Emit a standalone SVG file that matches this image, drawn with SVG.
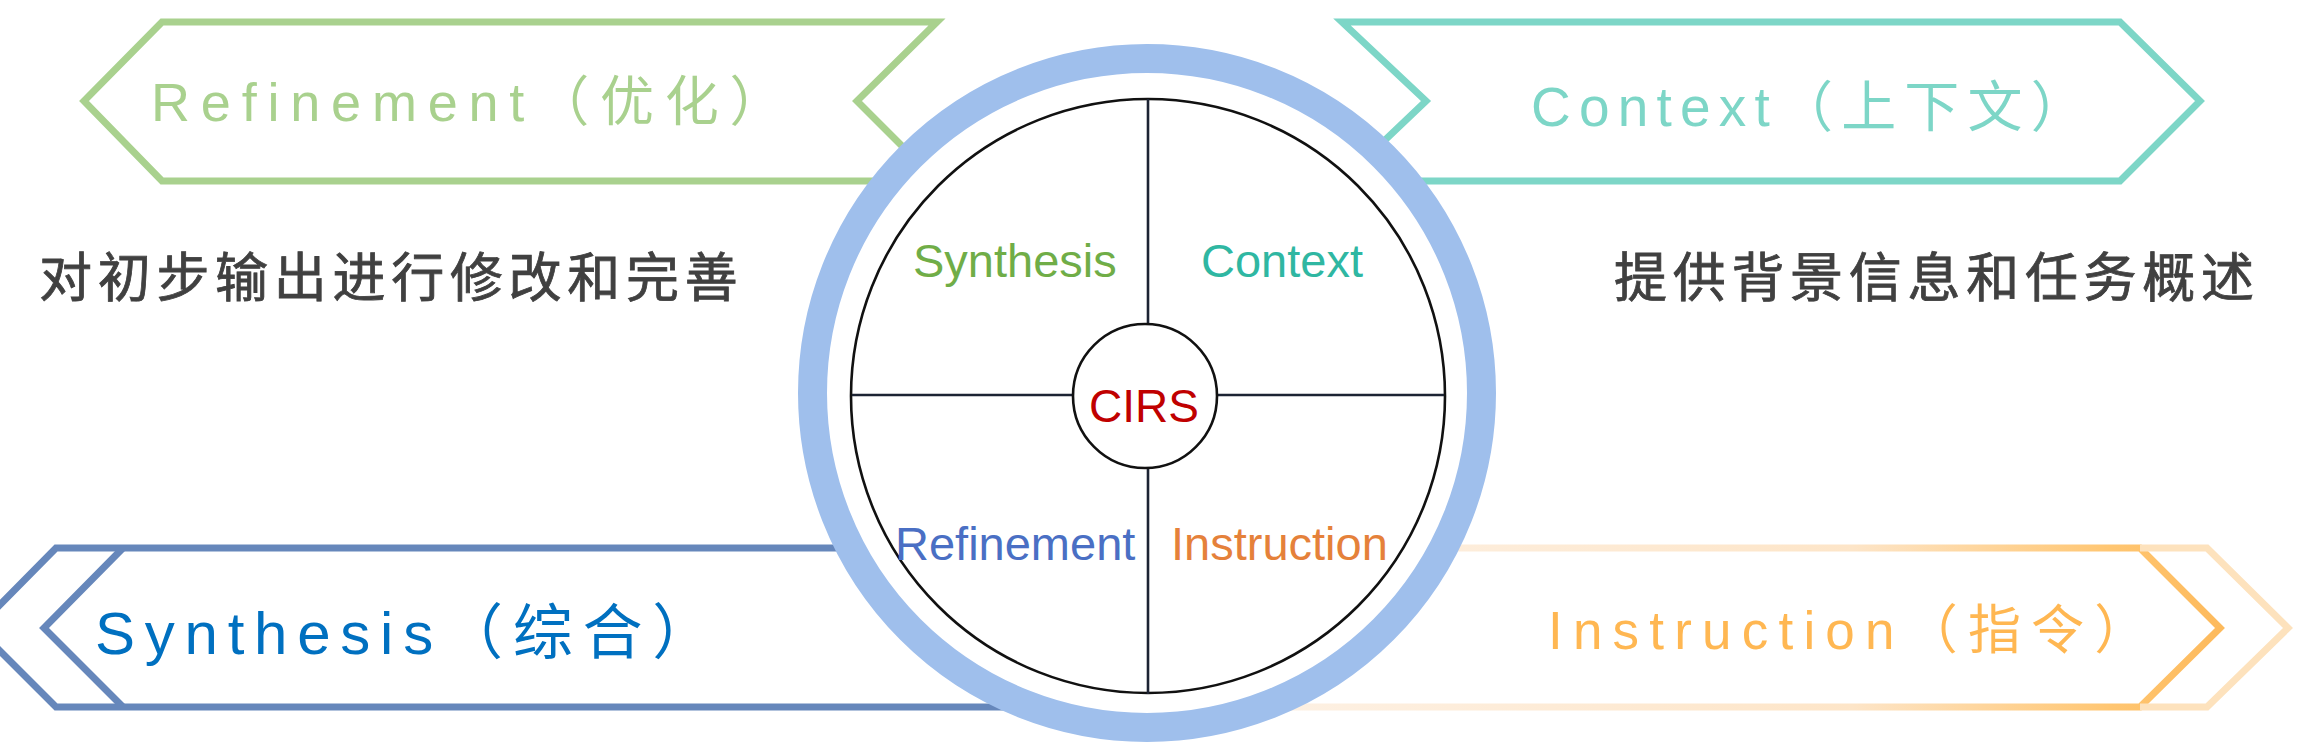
<svg xmlns="http://www.w3.org/2000/svg" width="2304" height="747" viewBox="0 0 2304 747">
<defs>
<style>
.arrow{fill:none;stroke-width:7;stroke-linejoin:miter;stroke-linecap:butt}
.big{font-family:"Liberation Sans","Noto Sans CJK SC",sans-serif}
.desc{font-family:"Noto Sans CJK SC","Liberation Sans",sans-serif;font-size:53px;font-weight:400;fill:#404040;stroke:#404040;stroke-width:0.8px;letter-spacing:5.7px}
.quad{font-family:"Liberation Sans",Arial,sans-serif;font-size:47px}
.line{stroke:#1c2333;stroke-width:2.6;fill:none}
</style>
<linearGradient id="instrGrad" gradientUnits="userSpaceOnUse" x1="1300" y1="0" x2="2220" y2="0">
<stop offset="0" stop-color="#fdf0e2"/>
<stop offset="0.6" stop-color="#fde5c8"/>
<stop offset="0.88" stop-color="#ffc672"/>
<stop offset="1" stop-color="#fdba5c"/>
</linearGradient>
</defs>
<rect width="2304" height="747" fill="#ffffff"/>

<g id="refinement-arrow">
<polygon class="arrow" stroke="#a9d18e" points="162,22 937,22 857,101 937,181 162,181 84,101"/>
<text class="big" x="151" y="121" font-size="54" fill="#a9d18e" letter-spacing="10.8">Refinement（优化）</text>
</g>

<g id="context-arrow">
<polygon class="arrow" stroke="#7dd6c7" points="1342,22 2120,22 2200,101 2120,181 1342,181 1426,101"/>
<text class="big" x="1531" y="126" font-size="55" fill="#7dd6c7" letter-spacing="8.2">Context（上下文）</text>
</g>

<g id="synthesis-arrow">
<polyline class="arrow" stroke="#6687bb" points="1200,548 56,548 -23,628 56,707 1200,707"/>
<polyline class="arrow" stroke="#6687bb" points="123,548 44,628 123,707"/>
<text class="big" x="95" y="654" font-size="60" fill="#0070c0" letter-spacing="9.75">Synthesis（综合）</text>
</g>

<g id="instruction-arrow">
<polyline class="arrow" stroke="url(#instrGrad)" points="1150,548 2140,548 2220,628 2140,707 1150,707"/>
<polyline class="arrow" stroke="#fde2bd" points="2140,548 2207,548 2288,628 2207,707 2140,707"/>
<text class="big" x="1548" y="649" font-size="53" fill="#ffb752" letter-spacing="10.2">Instruction（指令）</text>
</g>

<g id="refinement-desc">
<text class="desc" x="39" y="297">对初步输出进行修改和完善</text>
</g>
<g id="context-desc">
<text class="desc" x="1614" y="297">提供背景信息和任务概述</text>
</g>

<g id="cirs-wheel">
<circle cx="1147" cy="393" r="334.5" fill="#ffffff" stroke="#9fbfec" stroke-width="29"/>
<circle cx="1148" cy="396" r="297" fill="#ffffff" stroke="#111111" stroke-width="2.6"/>
</g>

<g id="connectors">
<line class="line" x1="1148" y1="99" x2="1148" y2="324"/>
<line class="line" x1="1148" y1="468" x2="1148" y2="694"/>
<line class="line" x1="852" y1="395" x2="1073" y2="395"/>
<line class="line" x1="1217" y1="395" x2="1444" y2="395"/>
</g>

<g id="cirs-center">
<circle cx="1145" cy="396" r="72" fill="#ffffff" stroke="#111111" stroke-width="2.6"/>
<text x="1089" y="422" font-family="Liberation Sans, Arial, sans-serif" font-size="46" fill="#c00000">CIRS</text>
</g>

<g id="quad-synthesis"><text class="quad" x="913" y="277" fill="#70ad47">Synthesis</text></g>
<g id="quad-context"><text class="quad" x="1201" y="277" fill="#2fb7a2">Context</text></g>
<g id="quad-refinement"><text class="quad" x="895" y="560" fill="#4a6fc4">Refinement</text></g>
<g id="quad-instruction"><text class="quad" x="1171" y="560" fill="#e5813a">Instruction</text></g>
</svg>
